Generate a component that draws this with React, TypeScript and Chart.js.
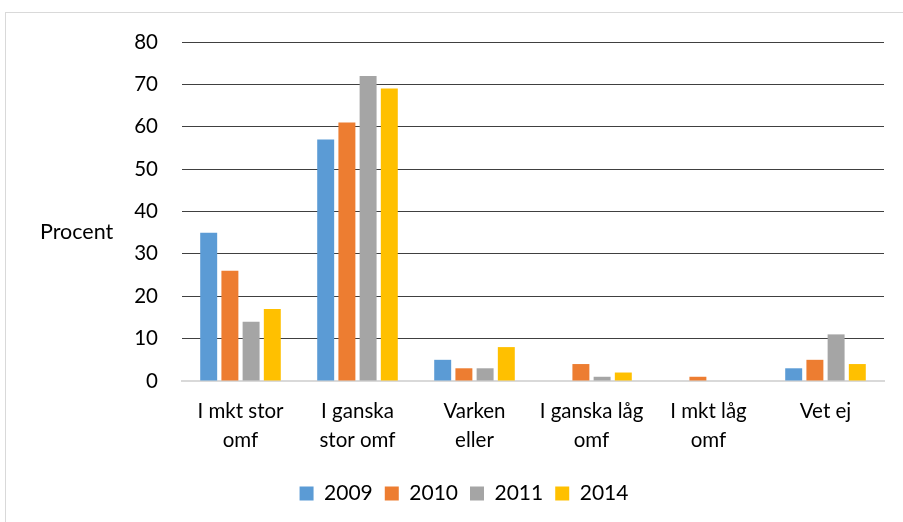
import React, { useEffect, useRef } from "react";
import { Chart, registerables } from "chart.js";

Chart.register(...registerables);

const categories: string[][] = [
  ["I mkt stor", "omf"],
  ["I ganska", "stor omf"],
  ["Varken", "eller"],
  ["I ganska låg", "omf"],
  ["I mkt låg", "omf"],
  ["Vet ej"],
];
const years = ["2009", "2010", "2011", "2014"];
const s2009 = [35, 57, 5, 0, 0, 3];
const s2010 = [26, 61, 3, 4, 1, 5];
const s2011 = [14, 72, 3, 1, 0, 11];
const s2014 = [17, 69, 8, 2, 0, 4];
const colors = ["#5b9bd5", "#ed7d31", "#a5a5a5", "#ffc000"];
const yTitle = "Procent";

const FONT = "Lato, 'Open Sans', sans-serif";

export default function App() {
  const ref = useRef<HTMLCanvasElement>(null);
  useEffect(() => {
    if (!ref.current) return;
    const series = [s2009, s2010, s2011, s2014];
    const titlePlugin = {
      id: "ytitle",
      afterDraw(chart: any) {
        const ctx = chart.ctx;
        ctx.save();
        ctx.font = `21.5px ${FONT}`;
        ctx.fillStyle = "#000";
        ctx.textAlign = "left";
        ctx.textBaseline = "middle";
        ctx.fillText(yTitle, 40, 232);
        ctx.restore();
      },
    };
    const chart = new Chart(ref.current, {
      type: "bar",
      data: {
        labels: categories as any,
        datasets: years.map((y, i) => ({
          label: y,
          data: series[i],
          backgroundColor: colors[i],
          borderWidth: 0,
          categoryPercentage: 0.725,
          barPercentage: 0.8,
        })),
      },
      options: {
        animation: false,
        responsive: false,
        devicePixelRatio: 1,
        layout: { padding: { top: 42, right: 19, bottom: 8, left: 44 } },
        plugins: {
          tooltip: { enabled: false },
          legend: {
            position: "bottom",
            labels: {
              font: { family: FONT, size: 21 },
              color: "#000",
              boxWidth: 14,
              boxHeight: 14,
              padding: 12,
            },
          },
        },
        scales: {
          x: {
            grid: { display: false, drawTicks: false },
            border: { color: "#d9d9d9", width: 2 },
            ticks: {
              font: { family: FONT, size: 20.5, lineHeight: 1.42 },
              color: "#000",
              padding: 16,
              maxRotation: 0,
              autoSkip: false,
            },
            afterFit(scale: any) {
              scale.height = 90;
            },
          },
          y: {
            min: 0,
            max: 80,
            ticks: {
              stepSize: 10,
              font: { family: FONT, size: 20.5 },
              color: "#000",
              padding: 24,
            },
            grid: { color: "#404040", lineWidth: 1, drawTicks: false },
            border: { display: false },
            afterFit(scale: any) {
              scale.width = 138;
            },
          },
        },
      },
      plugins: [titlePlugin],
    });
    return () => chart.destroy();
  }, []);
  return (
    <div style={{ position: "fixed", left: 0, top: 0, width: 903, height: 522, background: "#fff" }}>
      <div
        style={{
          position: "absolute",
          left: 5,
          top: 12,
          width: 960,
          height: 600,
          border: "1px solid #d9d9d9",
        }}
      />
      <canvas ref={ref} width={903} height={522} style={{ position: "absolute", left: 0, top: 0 }} />
    </div>
  );
}
